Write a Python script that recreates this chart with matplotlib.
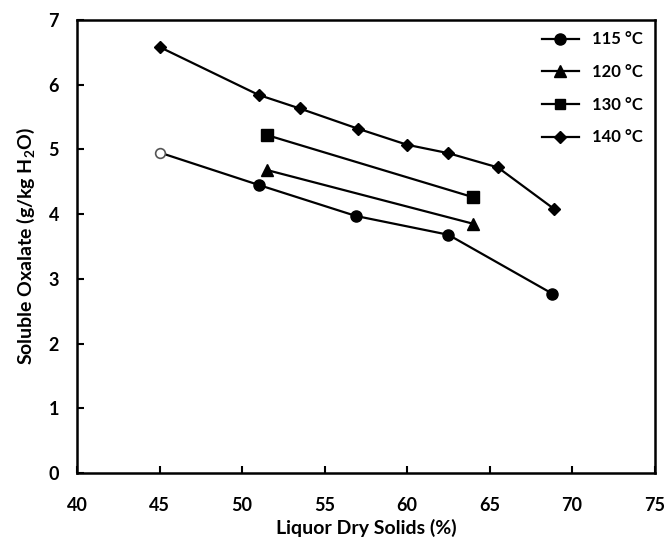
import matplotlib
matplotlib.use('Agg')
import matplotlib.pyplot as plt

plt.rcParams['font.family'] = ['Lato', 'DejaVu Sans']
plt.rcParams['mathtext.fontset'] = 'custom'
plt.rcParams['mathtext.bf'] = 'Lato:bold'
plt.rcParams['mathtext.rm'] = 'Lato:bold'

# 115 °C (first point drawn open)
x_115 = [45.0, 51.0, 56.9, 62.5, 68.8]
y_115 = [4.95, 4.45, 3.97, 3.68, 2.77]
x_120 = [51.5, 64.0]
y_120 = [4.68, 3.85]
x_130 = [51.5, 64.0]
y_130 = [5.22, 4.26]
x_140 = [45.0, 51.0, 53.5, 57.0, 60.0, 62.5, 65.5, 68.9]
y_140 = [6.58, 5.84, 5.63, 5.32, 5.07, 4.94, 4.72, 4.08]

x_ticks = [40, 45, 50, 55, 60, 65, 70, 75]
y_ticks = [0, 1, 2, 3, 4, 5, 6, 7]

fig = plt.figure(figsize=(6.7, 5.5), dpi=100)
ax = fig.add_axes([0.115, 0.14, 0.862, 0.824])

lw = 1.6
ax.plot(x_115, y_115, color='black', lw=lw, zorder=2)
ax.plot(x_115[1:], y_115[1:], ls='none', marker='o', ms=8, color='black',
        label='115 °C', zorder=3)
ax.plot(x_115[:1], y_115[:1], ls='none', marker='o', ms=7, mfc='white',
        mec='#555555', mew=1.2, zorder=3)
ax.plot(x_120, y_120, color='black', lw=lw, marker='^', ms=8, label='120 °C')
ax.plot(x_130, y_130, color='black', lw=lw, marker='s', ms=8, label='130 °C')
ax.plot(x_140, y_140, color='black', lw=lw, marker='D', ms=6, label='140 °C')

# legend entries with line through marker
handles = [plt.Line2D([], [], color='black', lw=lw, marker=m, ms=s)
           for m, s in [('o', 8), ('^', 8), ('s', 7), ('D', 6)]]
labels = ['115 °C', '120 °C', '130 °C', '140 °C']
leg = ax.legend(handles, labels, loc='upper right', frameon=False,
                handlelength=2.2, labelspacing=1.0, fontsize=12,
                borderaxespad=0.3)
for t in leg.get_texts():
    t.set_fontweight('bold')

ax.set_xlim(40, 75)
ax.set_ylim(0, 7)
ax.set_xticks(x_ticks)
ax.set_yticks(y_ticks)
ax.tick_params(direction='in', length=5, width=1.5, labelsize=13, pad=17)
ax.tick_params(axis='y', pad=13)
for lab in ax.get_xticklabels() + ax.get_yticklabels():
    lab.set_fontweight('bold')
for s in ax.spines.values():
    s.set_linewidth(1.8)

ax.set_xlabel('Liquor Dry Solids (%)', fontsize=14, fontweight='bold', labelpad=4)
ax.set_ylabel(r'Soluble Oxalate (g/kg H$_\mathbf{2}$O)', fontsize=14,
              fontweight='bold', labelpad=8)

fig.savefig('out.png', dpi=100)
